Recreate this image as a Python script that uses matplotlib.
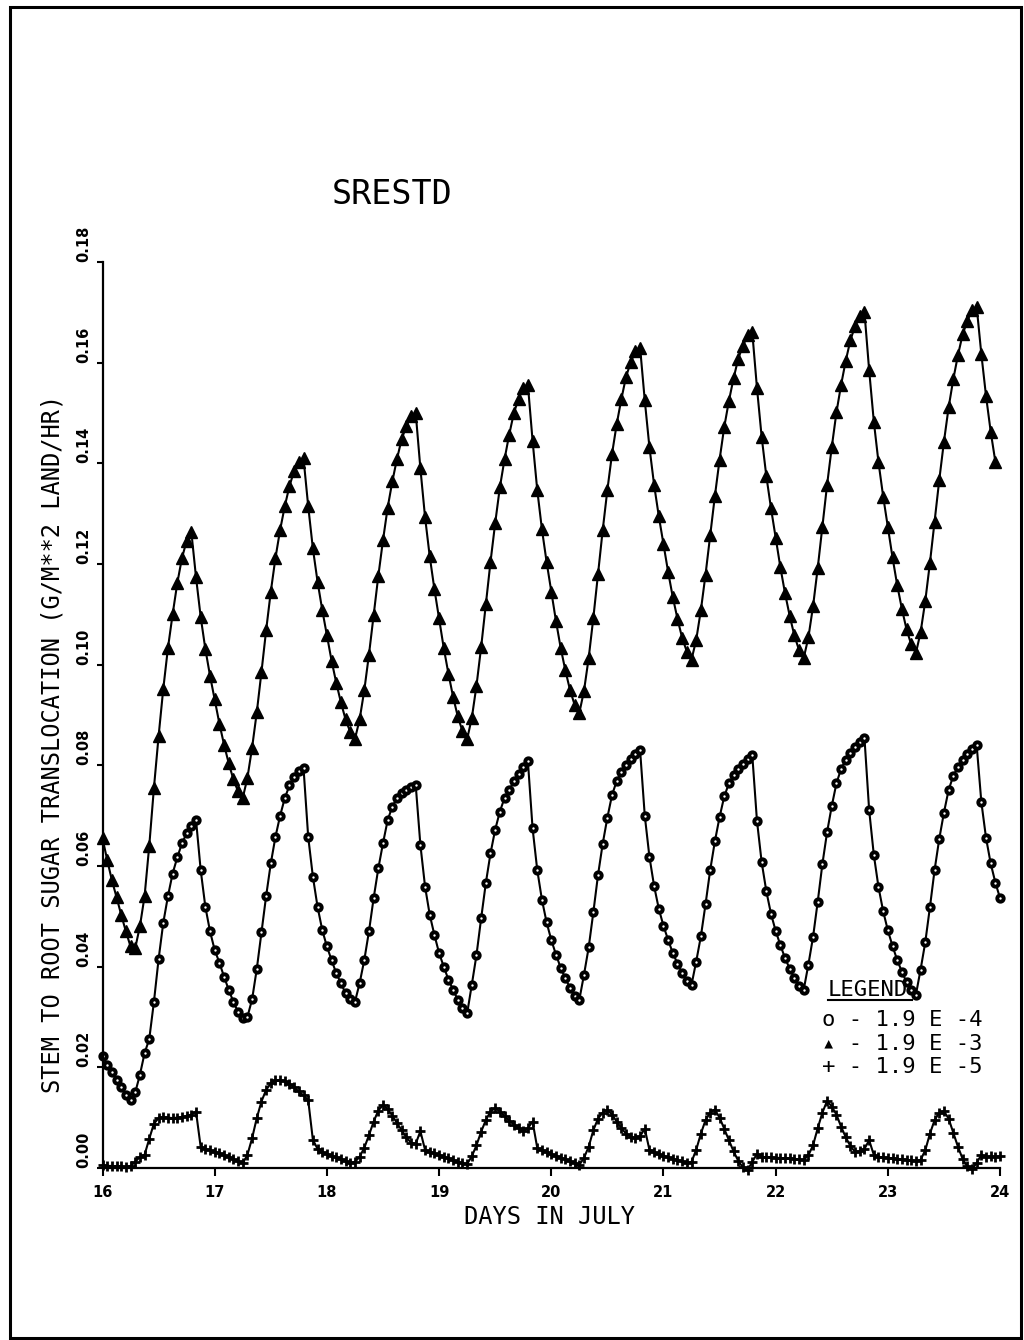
import numpy as np
import matplotlib.pyplot as plt
from matplotlib.patches import Rectangle
from matplotlib.lines import Line2D

MONO = ['DejaVu Sans Mono', 'DejaVu Sans']

# hourly translocation rates starting 16 July 00h, one row per day
tri_e3 = [
    0.0655, 0.0612, 0.0572, 0.0538, 0.0503, 0.0470, 0.0440, 0.0437, 0.0480, 0.0540, 0.0640, 0.0755,
    0.0858, 0.0952, 0.1033, 0.1100, 0.1162, 0.1212, 0.1246, 0.1264, 0.1174, 0.1095, 0.1031, 0.0978,
    0.0931, 0.0883, 0.0841, 0.0804, 0.0772, 0.0748, 0.0735, 0.0775, 0.0835, 0.0905, 0.0985, 0.1068,
    0.1145, 0.1212, 0.1268, 0.1315, 0.1355, 0.1385, 0.1402, 0.1410, 0.1315, 0.1231, 0.1165, 0.1109,
    0.1058, 0.1008, 0.0964, 0.0925, 0.0891, 0.0866, 0.0852, 0.0891, 0.0949, 0.1020, 0.1098, 0.1176,
    0.1247, 0.1312, 0.1364, 0.1409, 0.1448, 0.1474, 0.1494, 0.1500, 0.1390, 0.1293, 0.1215, 0.1150,
    0.1092, 0.1033, 0.0982, 0.0936, 0.0897, 0.0868, 0.0852, 0.0894, 0.0958, 0.1035, 0.1120, 0.1204,
    0.1281, 0.1352, 0.1408, 0.1457, 0.1500, 0.1528, 0.1549, 0.1556, 0.1445, 0.1347, 0.1269, 0.1204,
    0.1145, 0.1087, 0.1034, 0.0989, 0.0950, 0.0920, 0.0904, 0.0948, 0.1013, 0.1093, 0.1180, 0.1267,
    0.1347, 0.1419, 0.1478, 0.1528, 0.1572, 0.1601, 0.1623, 0.1630, 0.1525, 0.1432, 0.1357, 0.1295,
    0.1239, 0.1184, 0.1134, 0.1091, 0.1053, 0.1026, 0.1010, 0.1049, 0.1108, 0.1179, 0.1257, 0.1335,
    0.1407, 0.1472, 0.1524, 0.1569, 0.1608, 0.1634, 0.1654, 0.1660, 0.1550, 0.1453, 0.1375, 0.1311,
    0.1252, 0.1194, 0.1142, 0.1097, 0.1058, 0.1029, 0.1013, 0.1054, 0.1116, 0.1192, 0.1274, 0.1357,
    0.1432, 0.1501, 0.1556, 0.1604, 0.1645, 0.1673, 0.1693, 0.1700, 0.1585, 0.1483, 0.1402, 0.1334,
    0.1273, 0.1213, 0.1158, 0.1111, 0.1070, 0.1040, 0.1023, 0.1064, 0.1126, 0.1202, 0.1284, 0.1367,
    0.1443, 0.1511, 0.1567, 0.1615, 0.1656, 0.1683, 0.1704, 0.1711, 0.1617, 0.1534, 0.1463, 0.1403,
]

circ_e4 = [
    0.0222, 0.0205, 0.0190, 0.0175, 0.0160, 0.0145, 0.0135, 0.0150, 0.0185, 0.0228, 0.0256, 0.0330,
    0.0415, 0.0487, 0.0540, 0.0585, 0.0617, 0.0645, 0.0665, 0.0680, 0.0692, 0.0592, 0.0519, 0.0470,
    0.0433, 0.0408, 0.0380, 0.0354, 0.0330, 0.0310, 0.0298, 0.0300, 0.0335, 0.0395, 0.0468, 0.0540,
    0.0605, 0.0658, 0.0700, 0.0735, 0.0760, 0.0777, 0.0788, 0.0795, 0.0658, 0.0579, 0.0519, 0.0473,
    0.0440, 0.0413, 0.0387, 0.0367, 0.0347, 0.0335, 0.0330, 0.0367, 0.0413, 0.0470, 0.0536, 0.0595,
    0.0645, 0.0691, 0.0718, 0.0735, 0.0745, 0.0751, 0.0756, 0.0761, 0.0642, 0.0559, 0.0503, 0.0463,
    0.0427, 0.0400, 0.0374, 0.0354, 0.0334, 0.0318, 0.0307, 0.0364, 0.0423, 0.0496, 0.0566, 0.0625,
    0.0672, 0.0708, 0.0735, 0.0751, 0.0768, 0.0783, 0.0797, 0.0808, 0.0675, 0.0592, 0.0533, 0.0488,
    0.0453, 0.0424, 0.0398, 0.0377, 0.0358, 0.0342, 0.0334, 0.0384, 0.0438, 0.0508, 0.0582, 0.0644,
    0.0696, 0.0741, 0.0769, 0.0787, 0.0800, 0.0812, 0.0822, 0.0830, 0.0700, 0.0618, 0.0560, 0.0515,
    0.0481, 0.0453, 0.0427, 0.0406, 0.0387, 0.0372, 0.0364, 0.0410, 0.0460, 0.0524, 0.0592, 0.0649,
    0.0697, 0.0738, 0.0764, 0.0780, 0.0793, 0.0803, 0.0812, 0.0820, 0.0690, 0.0608, 0.0550, 0.0505,
    0.0471, 0.0443, 0.0417, 0.0396, 0.0377, 0.0362, 0.0354, 0.0404, 0.0459, 0.0529, 0.0604, 0.0667,
    0.0719, 0.0764, 0.0793, 0.0811, 0.0824, 0.0836, 0.0846, 0.0854, 0.0711, 0.0622, 0.0558, 0.0510,
    0.0472, 0.0441, 0.0413, 0.0390, 0.0369, 0.0353, 0.0344, 0.0394, 0.0448, 0.0518, 0.0592, 0.0654,
    0.0706, 0.0751, 0.0779, 0.0797, 0.0810, 0.0822, 0.0832, 0.0840, 0.0727, 0.0656, 0.0605, 0.0567,
    0.0536,
]

plus_e5 = [
    0.0005, 0.0004, 0.0004, 0.0003, 0.0003, 0.0002, 0.0004, 0.0012, 0.0022, 0.0026, 0.0058, 0.0088,
    0.0099, 0.0101, 0.0100, 0.0099, 0.0100, 0.0101, 0.0103, 0.0106, 0.0112, 0.0042, 0.0038, 0.0035,
    0.0032, 0.0029, 0.0025, 0.0021, 0.0017, 0.0013, 0.0009, 0.0026, 0.0059, 0.0099, 0.0132, 0.0155,
    0.0168, 0.0174, 0.0175, 0.0172, 0.0167, 0.0160, 0.0152, 0.0144, 0.0135, 0.0056, 0.0038, 0.0032,
    0.0027, 0.0024, 0.0021, 0.0017, 0.0013, 0.0010, 0.0012, 0.0022, 0.0040, 0.0065, 0.0092, 0.0114,
    0.0125, 0.0117, 0.0104, 0.0089, 0.0075, 0.0061, 0.0050, 0.0048, 0.0073, 0.0036, 0.0032, 0.0029,
    0.0026, 0.0022, 0.0019, 0.0016, 0.0012, 0.0009, 0.0008, 0.0023, 0.0045, 0.0072, 0.0095, 0.0112,
    0.0119, 0.0112, 0.0103, 0.0094, 0.0086, 0.0079, 0.0073, 0.0079, 0.0092, 0.0040, 0.0035, 0.0031,
    0.0027, 0.0024, 0.0020, 0.0017, 0.0013, 0.0010, 0.0006, 0.0020, 0.0042, 0.0075, 0.0098, 0.0110,
    0.0115, 0.0106, 0.0092, 0.0079, 0.0068, 0.0062, 0.0059, 0.0063, 0.0078, 0.0036, 0.0031, 0.0027,
    0.0024, 0.0021, 0.0018, 0.0015, 0.0013, 0.0010, 0.0012, 0.0036, 0.0068, 0.0095, 0.0110, 0.0116,
    0.0100, 0.0078, 0.0055, 0.0033, 0.0014, 0.0001, -0.0004, 0.0012, 0.0028, 0.0022, 0.0021, 0.0021,
    0.0020, 0.0020, 0.0019, 0.0019, 0.0018, 0.0017, 0.0016, 0.0025, 0.0045, 0.0079, 0.0110, 0.0133,
    0.0122, 0.0106, 0.0082, 0.0061, 0.0043, 0.0032, 0.0033, 0.0038, 0.0055, 0.0026, 0.0022, 0.0021,
    0.0020, 0.0019, 0.0018, 0.0017, 0.0016, 0.0015, 0.0014, 0.0016, 0.0035, 0.0068, 0.0095, 0.0110,
    0.0113, 0.0098, 0.0070, 0.0042, 0.0018, 0.0003, -0.0003, 0.0010, 0.0026, 0.0021, 0.0023, 0.0022,
    0.0023,
]

START_DAY = 16
day_ticks = [16, 17, 18, 19, 20, 21, 22, 23, 24]
rate_ticks = [0.00, 0.02, 0.04, 0.06, 0.08, 0.10, 0.12, 0.14, 0.16, 0.18]
legend_rows = [('o', '1.9 E -4'), ('\u25b4', '1.9 E -3'), ('+', '1.9 E -5')]


def hourly_days(vals):
    return START_DAY + np.arange(len(vals)) / 24.0


fig = plt.figure(figsize=(10.24, 13.40), dpi=100)
ax = fig.add_axes([0.1001, 0.1284, 0.8765, 0.6761])

ax.plot(hourly_days(plus_e5), plus_e5, color='black', lw=1.5,
        marker='+', ms=6.5, mew=2.0, clip_on=False)
ax.plot(hourly_days(circ_e4), circ_e4, color='black', lw=1.5,
        marker='o', ms=4.6, mew=2.8, mfc='white', mec='black', clip_on=False)
ax.plot(hourly_days(tri_e3), tri_e3, color='black', lw=1.5,
        marker='^', ms=8, mfc='black', mec='black', clip_on=False)

ax.set_xlim(16, 24)
ax.set_ylim(0, 0.18)
ax.set_xticks(day_ticks)
ax.set_yticks(rate_ticks)
ax.set_xticklabels([str(d) for d in day_ticks])
ax.set_yticklabels(['%.2f' % v for v in rate_ticks])

for side in ('top', 'right'):
    ax.spines[side].set_visible(False)
for side in ('left', 'bottom'):
    ax.spines[side].set_linewidth(1.6)

ax.tick_params(axis='x', direction='out', length=6, width=1.5, pad=6, labelsize=10.5)
ax.tick_params(axis='y', direction='out', length=4, width=1.5, pad=4, labelsize=10.5,
               labelrotation=90)
plt.setp(ax.get_xticklabels(), fontweight='bold')
plt.setp(ax.get_yticklabels(), fontweight='bold', va='bottom')

fig.text(0.383, 0.8545, 'SRESTD', family=MONO, fontsize=24, ha='center', va='center')
fig.text(0.537, 0.0918, 'DAYS IN JULY', family=MONO, fontsize=17, ha='center', va='center')
fig.text(0.051, 0.445, 'STEM TO ROOT SUGAR TRANSLOCATION (G/M**2 LAND/HR)',
         family=MONO, fontsize=17, rotation=90, ha='center', va='center')

# legend block, drawn as plain text like the plotter output
fig.text(828 / 1024, 0.2612, 'LEGEND', family=MONO, fontsize=16, ha='left', va='center')
fig.add_artist(Line2D([828 / 1024, 912 / 1024], [0.2537, 0.2537],
                      transform=fig.transFigure, color='black', lw=1.5))
row_y = [0.2388, 0.2209, 0.2037]
for (sym, lab), y in zip(legend_rows, row_y):
    fig.text(822 / 1024, y, sym + ' - ' + lab, family=MONO, fontsize=16,
             ha='left', va='center')

# page frame
fig.add_artist(Rectangle((10 / 1024, 2 / 1340), 1011 / 1024, 1331 / 1340,
                         transform=fig.transFigure, fill=False, ec='black', lw=2.2))

fig.savefig('out.png', dpi=100, facecolor='white')
